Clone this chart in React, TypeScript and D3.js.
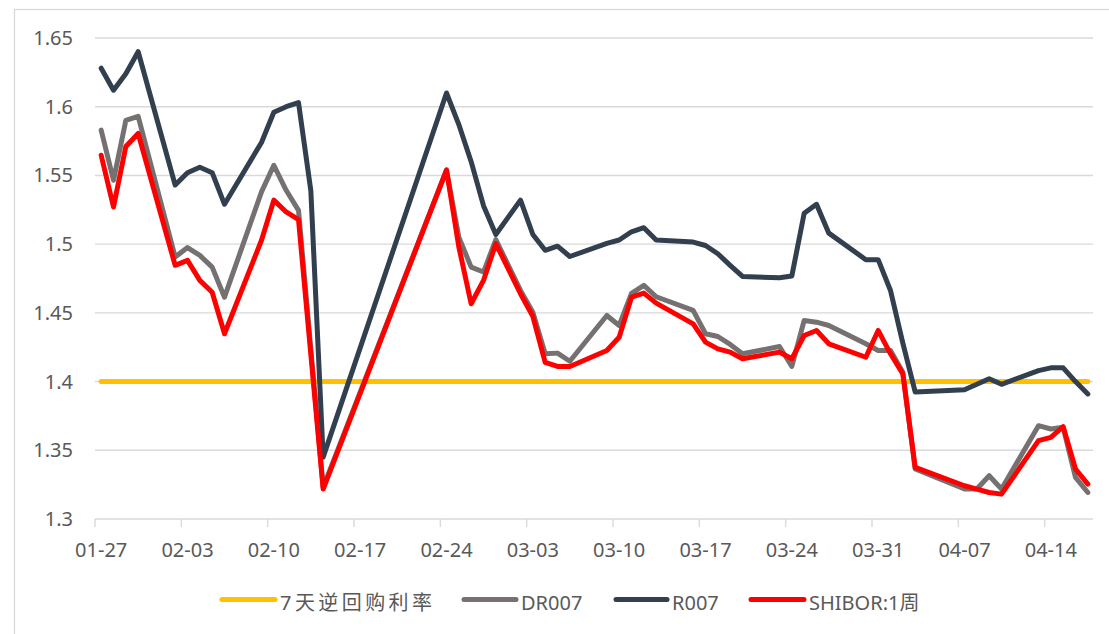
import React from "react";
import * as d3 from "d3";

// Trading days and daily fixings
const dates: string[] = [
  "2026-01-27", "2026-01-28", "2026-01-29", "2026-01-30",
  "2026-02-02", "2026-02-03", "2026-02-04", "2026-02-05", "2026-02-06",
  "2026-02-09", "2026-02-10", "2026-02-11", "2026-02-12", "2026-02-13", "2026-02-14",
  "2026-02-24", "2026-02-25", "2026-02-26", "2026-02-27", "2026-02-28",
  "2026-03-02", "2026-03-03", "2026-03-04", "2026-03-05", "2026-03-06",
  "2026-03-09", "2026-03-10", "2026-03-11", "2026-03-12", "2026-03-13",
  "2026-03-16", "2026-03-17", "2026-03-18", "2026-03-19", "2026-03-20",
  "2026-03-23", "2026-03-24", "2026-03-25", "2026-03-26", "2026-03-27",
  "2026-03-30", "2026-03-31", "2026-04-01", "2026-04-02", "2026-04-03",
  "2026-04-07", "2026-04-08", "2026-04-09", "2026-04-10",
  "2026-04-13", "2026-04-14", "2026-04-15", "2026-04-16", "2026-04-17",
];

const reverseRepo7d: (number | null)[] = dates.map(() => 1.4);

const dr007: (number | null)[] = [
  1.583, 1.5465, 1.59, 1.593,
  1.4906, 1.4975, 1.4918, 1.4833, 1.4614,
  1.538, 1.5574, 1.5392, 1.5246, null, 1.323,
  1.554, 1.505, 1.4833, 1.4797, 1.5033,
  1.4663, 1.4505, 1.4202, 1.4207, 1.4148,
  1.4481, 1.4408, 1.4642, 1.47, 1.4617,
  1.4518, 1.4348, 1.4328, 1.427, 1.4202,
  1.4255, 1.411, 1.4445, 1.4432, 1.4408,
  1.4275, 1.4226, 1.4226, 1.4068, 1.3364,
  1.3218, 1.3218, 1.3315, 1.3218,
  1.3679, 1.3655, 1.3667, 1.3303, 1.3193,
];

const r007: (number | null)[] = [
  1.628, 1.612, 1.624, 1.64,
  1.543, 1.552, 1.556, 1.552, 1.529,
  1.574, 1.596, 1.6, 1.603, 1.539, 1.345,
  1.61, 1.587, 1.56, 1.528, 1.507,
  1.532, 1.507, 1.4955, 1.4985, 1.491,
  1.5006, 1.503, 1.509, 1.512, 1.503,
  1.5015, 1.499, 1.493, 1.4846, 1.4765,
  1.4755, 1.4768, 1.5224, 1.529, 1.508,
  1.4887, 1.4887, 1.4663, 1.428, 1.3925,
  1.394, 1.398, 1.402, 1.398,
  1.408, 1.41, 1.41, 1.4, 1.391,
];

const shibor1w: (number | null)[] = [
  1.5647, 1.527, 1.571, 1.5805,
  1.4846, 1.4882, 1.4736, 1.465, 1.4348,
  1.5028, 1.532, 1.5234, 1.5179, null, 1.3218,
  1.5538, 1.498, 1.4566, 1.4736, 1.5004,
  1.4639, 1.4475, 1.414, 1.411, 1.411,
  1.4226, 1.4323, 1.4614, 1.4644, 1.4571,
  1.442, 1.4287, 1.4238, 1.4214, 1.4166,
  1.4214, 1.4166, 1.4335, 1.4372, 1.4275,
  1.4177, 1.4372, 1.4202, 1.4056, 1.3376,
  1.3242, 1.3218, 1.3193, 1.3181,
  1.357, 1.3594, 1.3672, 1.3364, 1.3254,
];

const yTicks: number[] = [1.3, 1.35, 1.4, 1.45, 1.5, 1.55, 1.6, 1.65];
const yTickLabels: string[] = ["1.3", "1.35", "1.4", "1.45", "1.5", "1.55", "1.6", "1.65"];

const seriesNames: string[] = ["7天逆回购利率", "DR007", "R007", "SHIBOR:1周"];
const seriesColors: string[] = ["#FFC000", "#767171", "#323F4F", "#FF0000"];
const seriesValues = [reverseRepo7d, dr007, r007, shibor1w];

const W = 1109;
const H = 634;
const FONT = "'Noto Sans', 'Noto Sans CJK SC', sans-serif";
const TEXT = "#595959";
const GRID = "#D9D9D9";

const parse = d3.utcParse("%Y-%m-%d");
const start = parse("2026-01-27") as Date;
const end = parse("2026-04-18") as Date;

const x = d3.scaleUtc().domain([start, end]).range([95, 1094]);
const y = d3.scaleLinear().domain([1.3, 1.65]).range([519, 38]);

// each day occupies a slot; points sit in the middle of it
const xMid = (d: Date) => x(d3.utcHour.offset(d, 12));

const xTickDates: Date[] = d3.range(0, 81, 7).map((k) => d3.utcDay.offset(start, k));
const fmt = d3.utcFormat("%m-%d");

const parsedDates = dates.map((s) => parse(s) as Date);

function seriesPath(values: (number | null)[]): string {
  const pts = parsedDates
    .map((d, i) => ({ d, v: values[i] }))
    .filter((p) => p.v !== null) as { d: Date; v: number }[];
  const line = d3
    .line<{ d: Date; v: number }>()
    .x((p) => xMid(p.d))
    .y((p) => y(p.v));
  return line(pts) || "";
}

// legend layout: line start, line end, text start, text width
const legendItems = [
  { x0: 222, x1: 275, tx: 280, tw: 152 },
  { x0: 464, x1: 516, tx: 521, tw: 0 },
  { x0: 616, x1: 667, tx: 672, tw: 0 },
  { x0: 751, x1: 804, tx: 809, tw: 0 },
];

export default function App() {
  const [x0, x1] = x.range();
  return (
    <div style={{ position: "absolute", left: 0, top: 0 }}>
      <svg width={W} height={H} style={{ display: "block", background: "#fff" }}>
        <rect x={14.5} y={9.5} width={W + 20} height={H + 20} fill="#fff" stroke={GRID} strokeWidth={1.3} />

        {/* gridlines */}
        {yTicks.map((t) => (
          <line key={t} x1={x0} x2={x1 - 1} y1={y(t)} y2={y(t)} stroke={GRID} strokeWidth={1.4} />
        ))}

        {/* x tick marks */}
        {xTickDates.map((d) => (
          <line key={+d} x1={x(d)} x2={x(d)} y1={y(1.3)} y2={y(1.3) + 8} stroke={GRID} strokeWidth={1.4} />
        ))}

        {/* y labels */}
        {yTicks.map((t, i) => (
          <text key={t} x={73} y={y(t) + 7} textAnchor="end" fontFamily={FONT} fontSize={20} fill={TEXT}>
            {yTickLabels[i]}
          </text>
        ))}

        {/* x labels */}
        {xTickDates.map((d) => (
          <text key={+d} x={xMid(d)} y={557} textAnchor="middle" fontFamily={FONT} fontSize={20} fill={TEXT}>
            {fmt(d)}
          </text>
        ))}

        {/* series */}
        {seriesValues.map((vals, i) => (
          <path
            key={seriesNames[i]}
            d={seriesPath(vals)}
            fill="none"
            stroke={seriesColors[i]}
            strokeWidth={5}
            strokeLinejoin="round"
            strokeLinecap="round"
          />
        ))}

        {/* legend */}
        {legendItems.map((it, i) => (
          <g key={seriesNames[i]}>
            <line x1={it.x0} x2={it.x1} y1={599.5} y2={599.5} stroke={seriesColors[i]} strokeWidth={5} strokeLinecap="round" />
            <text
              x={it.tx}
              y={610}
              fontFamily={FONT}
              fontSize={20}
              fill={TEXT}
              {...(it.tw ? { textLength: it.tw, lengthAdjust: "spacing" } : {})}
            >
              {seriesNames[i]}
            </text>
          </g>
        ))}
      </svg>
    </div>
  );
}
